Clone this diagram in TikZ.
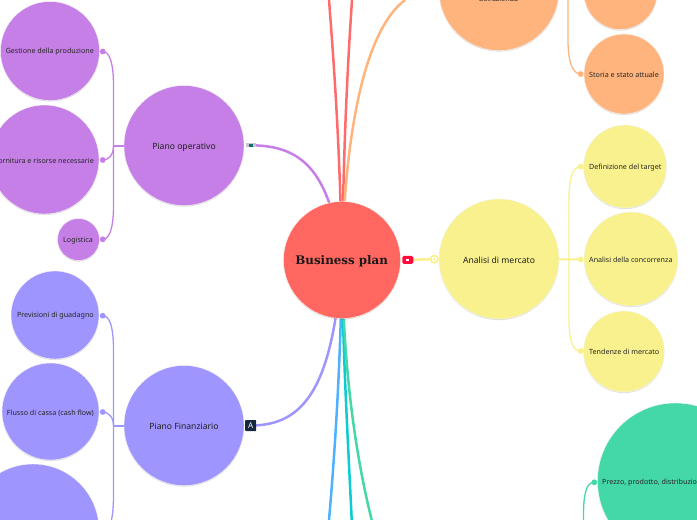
\documentclass[tikz,border=0pt]{standalone}
\usepackage{fontspec}
\setmainfont{Noto Sans}
\newfontfamily\slabfont{DejaVu Serif}
\usetikzlibrary{shadows,backgrounds}
\definecolor{cCentral}{HTML}{FF6760}
\definecolor{cPurple}{HTML}{C77FE8}
\definecolor{cViolet}{HTML}{9E95FF}
\definecolor{cOrange}{HTML}{FFB47E}
\definecolor{cYellow}{HTML}{F8F18D}
\definecolor{cGreen}{HTML}{44D7A8}
\definecolor{cBlue}{HTML}{4FB0FF}
\definecolor{cTeal}{HTML}{0CCBD3}
\definecolor{cRed}{HTML}{FF6B6B}
\definecolor{cNavy}{HTML}{14293F}
\definecolor{cYT}{HTML}{FF0A3C}
\tikzset{
  bub/.style={circle,inner sep=0pt,fill=#1,draw=black!4,line width=.4pt,
    drop shadow={shadow xshift=0pt,shadow yshift=-1.1pt,opacity=.12,fill=black}},
  maintxt/.style={font=\fontsize{8.6}{10}\selectfont,text=black!88,inner sep=0pt},
  subtxt/.style={font=\fontsize{7.15}{8}\selectfont,text=black!85,inner sep=0pt},
  dotn/.style={circle,inner sep=0pt,minimum size=5.8pt,fill=#1},
  mainline/.style={line width=2.5pt,draw=#1},
  sideline/.style={line width=1.3pt,draw=#1},
  hubline/.style={line width=2pt,draw=#1},
}
\begin{document}
\begin{tikzpicture}[x=1pt,y=-1pt]
\useasboundingbox (0,0) rectangle (697,520);
% central
\node[bub=cCentral,minimum size=117pt] (c) at (342,260) {};
\node[inner sep=0pt,font=\slabfont\bfseries\fontsize{11.85}{13}\selectfont,text=black!90] (ct) at (341.7,261.5) {Business plan};
% main topics
\node[bub=cPurple,minimum size=120pt] (po) at (184,145.5) {};
\node[bub=cViolet,minimum size=120pt] (pf) at (184,425.5) {};
\node[bub=cYellow,minimum size=120pt] (am) at (499,259) {};
\node[bub=cOrange,minimum size=120pt] (az) at (499,-9.5) {};
\node[maintxt] (pot) at (184,147.5) {Piano operativo};
\node[maintxt] (pft) at (184,426.5) {Piano Finanziario};
\node[maintxt] (amt) at (499,260.5) {Analisi di mercato};
\node[subtxt,anchor=center] (azt) at (498.5,-1) {dell'azienda};
% purple children
\node[bub=cPurple,minimum size=99pt] (p1) at (50,51) {};
\node[bub=cPurple,minimum size=109pt] (p2) at (44.5,159.5) {};
\node[bub=cPurple,minimum size=42pt] (p3) at (78.5,239.5) {};
\node[subtxt,anchor=east] (p1t) at (94,52) {Gestione della produzione};
\node[subtxt,anchor=east] (p2t) at (94,160.5) {Fornitura e risorse necessarie};
\node[subtxt,anchor=east] (p3t) at (93,240.5) {Logistica};
\node[dotn=cPurple] (p1d) at (102.7,51.5) {};
\node[dotn=cPurple] (p2d) at (102.7,160) {};
\node[dotn=cPurple] (p3d) at (102.7,239.3) {};
\coordinate (ph) at (113.5,145.5);
% violet children
\node[bub=cViolet,minimum size=88pt] (v1) at (55,315) {};
\node[bub=cViolet,minimum size=97pt] (v2) at (50.5,411.5) {};
\node[bub=cViolet,minimum size=132pt] (v3) at (33,530) {};
\node[subtxt,anchor=east] (v1t) at (94,316) {Previsioni di guadagno};
\node[subtxt,anchor=east] (v2t) at (94,413) {Flusso di cassa (cash flow)};
\node[dotn=cViolet] (v1d) at (102.7,315.7) {};
\node[dotn=cViolet] (v2d) at (102.7,412) {};
\node[dotn=cViolet] (v3d) at (102.7,532) {};
\coordinate (vh) at (113.5,425.5);
% yellow children
\node[bub=cYellow,minimum size=83pt] (y1) at (625,166.5) {};
\node[bub=cYellow,minimum size=94pt] (y2) at (631,259) {};
\node[bub=cYellow,minimum size=81pt] (y3) at (624,351.5) {};
\node[subtxt,anchor=west] (y1t) at (589,168) {Definizione del target};
\node[subtxt,anchor=west] (y2t) at (589,260) {Analisi della concorrenza};
\node[subtxt,anchor=west] (y3t) at (589,352) {Tendenze di mercato};
\node[dotn=cYellow] (y1d) at (580.7,166.7) {};
\node[dotn=cYellow] (y2d) at (580.7,259.5) {};
\node[dotn=cYellow] (y3d) at (580.7,351) {};
\coordinate (yh) at (569,259.2);
% orange children
\node[bub=cOrange,minimum size=73pt] (o1) at (620.5,-7) {};
\node[bub=cOrange,minimum size=80pt] (o2) at (624,74) {};
\node[subtxt,anchor=west] (o2t) at (589,75) {Storia e stato attuale};
\node[dotn=cOrange] (o2d) at (580.7,74) {};
\coordinate (oh) at (568,-9.5);
% green child
\node[bub=cGreen,minimum size=156pt] (g1) at (675.5,481) {};
\node[subtxt,anchor=west] (g1t) at (602,483) {Prezzo, prodotto, distribuzione};
\node[dotn=cGreen] (g1d) at (594.3,482.3) {};
\coordinate (gh) at (583.5,560);
% free ends of the main branches
\coordinate (topa) at (329,0);
\coordinate (topb) at (352,0);
\coordinate (topc) at (405,0);
\coordinate (bota) at (329,520);
\coordinate (botb) at (351.7,520);
\coordinate (botc) at (371.7,520);
% icons
\node[inner sep=0pt,minimum width=11pt,minimum height=8pt,rounded corners=1.5pt,fill=cYT] (yt) at (407.8,259.8) {};
\node[inner sep=0pt,minimum width=3pt,minimum height=2.6pt,fill=white] (ytp) at (407.8,259.8) {};
\node[circle,inner sep=0pt,minimum size=7.4pt,fill=white,draw=cYellow,line width=1.7pt] (ring) at (434.3,259.2) {};
\node[circle,inner sep=0pt,minimum size=3pt,fill=cYellow] (ringd) at (434.3,259.2) {};
\node[inner sep=0pt,minimum width=11pt,minimum height=11pt,fill=cNavy,rounded corners=.6pt,text=white,font=\fontsize{8}{9}\selectfont] (ai) at (250.7,425.5) {A};
\node[inner sep=0pt,minimum width=10pt,minimum height=4pt,fill=black!22] (chip) at (250.5,145.3) {};
\node[inner sep=0pt,minimum width=4pt,minimum height=3pt,fill=cNavy!70!cyan] (chipc) at (250.5,145.3) {};
\begin{scope}[on background layer]
  % main branches
  \draw[mainline=cRed] (c.center) .. controls +(-2,-100) and +(7,90) .. (topa);
  \draw[mainline=cRed] (c.center) .. controls +(1.5,-100) and +(-6,90) .. (topb);
  \draw[mainline=cOrange] (c.center) .. controls +(3,-130) and +(-40,30) .. (topc);
  \draw[mainline=cBlue] (c.center) .. controls +(-1,90) and +(7,-80) .. (bota);
  \draw[mainline=cTeal] (c.center) .. controls +(.5,90) and +(-3.7,-80) .. (botb);
  \draw[mainline=cGreen] (c.center) .. controls +(1,90) and +(-20,-80) .. (botc);
  \draw[mainline=cPurple] (chip.center) .. controls +(55,0) and +(-12,-85) .. (c.center);
  \draw[mainline=cViolet] (ai.center) .. controls +(55,0) and +(-9,125) .. (c.center);
  \draw[mainline=cYellow] (yt.center) -- (ring.center);
  \draw[mainline=cYellow] (ring.center) -- (am.center);
  % purple side
  \draw[hubline=cPurple] (po.center) -- (ph);
  \draw[sideline=cPurple] (ph) -- ++(0,-60) .. controls +(0,-22) and +(7,0) .. (p1d.center);
  \draw[sideline=cPurple] (ph) .. controls +(0,11) and +(5,0) .. (p2d.center);
  \draw[sideline=cPurple] (ph) -- ++(0,60) .. controls +(0,22) and +(7,0) .. (p3d.center);
  % violet side
  \draw[hubline=cViolet] (pf.center) -- (vh);
  \draw[sideline=cViolet] (vh) -- ++(0,-75) .. controls +(0,-24) and +(7,0) .. (v1d.center);
  \draw[sideline=cViolet] (vh) .. controls +(0,-9) and +(5,0) .. (v2d.center);
  \draw[sideline=cViolet] (vh) -- ++(0,70) .. controls +(0,24) and +(7,0) .. (v3d.center);
  % yellow side
  \draw[hubline=cYellow] (am.center) -- (y2d.center);
  \draw[sideline=cYellow] (yh) -- ++(0,-60) .. controls +(0,-24) and +(-7,0) .. (y1d.center);
  \draw[sideline=cYellow] (yh) -- ++(0,60) .. controls +(0,24) and +(-7,0) .. (y3d.center);
  % orange side
  \draw[hubline=cOrange] (az.center) -- (oh);
  \draw[sideline=cOrange] (oh) -- ++(0,50) .. controls +(0,24) and +(-7,0) .. (o2d.center);
  \draw[sideline=cOrange] (oh) .. controls +(0,-5) and +(-4,0) .. (o1.center);
  % green side
  \draw[sideline=cGreen] (gh) -- ++(0,-45) .. controls +(0,-24) and +(-7,0) .. (g1d.center);
\end{scope}
\end{tikzpicture}
\end{document}
